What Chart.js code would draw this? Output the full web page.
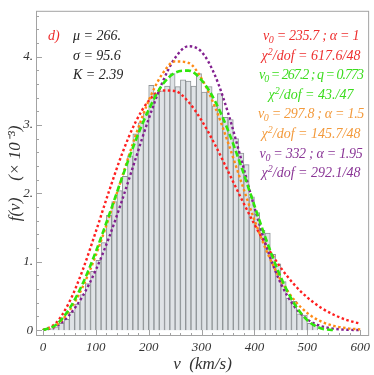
<!DOCTYPE html>
<html>
<head>
<meta charset="utf-8">
<script src="https://cdn.jsdelivr.net/npm/chart.js"></script>
<style>
	body { margin: 0; background: #fff; }
	#wrap { position: relative; width: 374px; height: 375px; }
	.note { position: absolute; font-family: "Liberation Serif", serif; font-style: italic; font-size: 14px; white-space: nowrap; }
	.note div { height: 19.6px; line-height: 19.6px; }
	.note sub { font-size: 10px; line-height: 0; vertical-align: -3px; }
	.note sup { font-size: 10px; line-height: 0; vertical-align: 5px; }
	#stats { left: 73px; top: 26px; color: #222; }
	#tag { left: 48px; top: 26px; color: #ee2a2a; }
	#fits { left: 236px; top: 26px; width: 150px; text-align: center; }
	#fits .v { letter-spacing: -0.3px; }
	#fits .tight { letter-spacing: -1px; }
	.red { color: #ee2e2e; }
	.green { color: #3cdc1e; }
	.orange { color: #f39a3c; }
	.purple { color: #8a3596; }
</style>
</head>
<body>
<div id="wrap">
	<canvas id="graf"></canvas>
	<div class="note" id="tag"><div>d)</div></div>
	<div class="note" id="stats">
		<div>μ = 266.</div>
		<div>σ = 95.6</div>
		<div>K = 2.39</div>
	</div>
	<div class="note" id="fits">
		<div class="red v">v<sub>0</sub> = 235.7 ; α = 1</div>
		<div class="red">χ<sup>2</sup>/dof = 617.6/48</div>
		<div class="green tight">v<sub>0</sub> = 267.2 ; q = 0.773</div>
		<div class="green">χ<sup>2</sup>/dof = 43./47</div>
		<div class="orange v">v<sub>0</sub> = 297.8 ; α = 1.5</div>
		<div class="orange">χ<sup>2</sup>/dof = 145.7/48</div>
		<div class="purple v">v<sub>0</sub> = 332 ; α = 1.95</div>
		<div class="purple">χ<sup>2</sup>/dof = 292.1/48</div>
	</div>
</div>
<script>
	// histogram, bins of 10 km/s (bin centres)
	let binCenters = [5, 15, 25, 35, 45, 55, 65, 75, 85, 95, 105, 115, 125, 135, 145, 155, 165, 175, 185, 195,
		205, 215, 225, 235, 245, 255, 265, 275, 285, 295, 305, 315, 325, 335, 345, 355, 365, 375, 385, 395,
		405, 415, 425, 435, 445, 455, 465, 475, 485, 495, 505, 515];
	let binCounts = [0.005, 0.02, 0.05, 0.10, 0.16, 0.26, 0.38, 0.52, 0.68, 0.86, 1.02, 1.28, 1.68, 1.88, 2.04, 2.25, 2.55, 2.87, 3.03, 3.18,
		3.58, 3.45, 3.50, 3.57, 3.75, 3.56, 3.66, 3.64, 3.57, 3.75, 3.48, 3.56, 3.28, 3.46, 3.11, 3.08, 2.80, 2.59, 2.42, 1.95,
		1.72, 1.46, 1.42, 1.11, 0.97, 0.71, 0.47, 0.42, 0.24, 0.22, 0.10, 0.07];

	// fitted curves, read every 25 km/s
	let vGrid = [0, 25, 50, 75, 100, 125, 150, 175, 200, 225, 250, 275, 300, 325, 350, 375, 400, 425, 450, 475, 500, 525, 550, 575, 600];
	let redFit = [0, 0.107, 0.412, 0.875, 1.439, 2.031, 2.585, 3.039, 3.353, 3.505, 3.495, 3.339, 3.067, 2.717, 2.326, 1.927, 1.547, 1.205, 0.911, 0.669, 0.478, 0.333, 0.225, 0.148, 0.095];
	let greenFit = [0, 0.080, 0.312, 0.677, 1.147, 1.682, 2.237, 2.766, 3.222, 3.578, 3.763, 3.795, 3.656, 3.357, 2.922, 2.393, 1.821, 1.263, 0.771, 0.391, 0.145, 0.029, 0.001, null, null];
	let orangeFit = [0, 0.071, 0.283, 0.629, 1.094, 1.648, 2.249, 2.840, 3.356, 3.736, 3.929, 3.909, 3.678, 3.271, 2.744, 2.169, 1.611, 1.122, 0.730, 0.443, 0.250, 0.131, 0.063, 0.028, 0.011];
	let purpleFit = [0, 0.055, 0.222, 0.497, 0.879, 1.355, 1.907, 2.501, 3.088, 3.605, 3.981, 4.151, 4.070, 3.732, 3.180, 2.498, 1.794, 1.166, 0.680, 0.351, 0.159, 0.062, 0.021, 0.006, 0.002];

	let xTicks = [0, 100, 200, 300, 400, 500, 600];
	let yTicks = [0, 1, 2, 3, 4];

	const pts = (xs, ys) => xs.map((x, i) => ({ x: x, y: ys[i] }));
	const serif = "'Liberation Serif', serif";

	function curve(data, color, dash, width) {
		return {
			type: "line",
			data: data,
			borderColor: color,
			borderWidth: width,
			borderDash: dash,
			borderCapStyle: "butt",
			pointRadius: 0,
			fill: false,
			spanGaps: false,
			cubicInterpolationMode: "monotone",
		};
	}

	// frame box and inward tick marks
	const frameTicks = {
		id: "frameTicks",
		afterDatasetsDraw(chart) {
			const { ctx, chartArea: a, scales } = chart;
			ctx.save();
			ctx.strokeStyle = "#a3a3a3";
			ctx.lineWidth = 1;
			ctx.strokeRect(a.left + 0.5, a.top + 0.5, a.right - a.left - 1, a.bottom - a.top - 1);
			ctx.beginPath();
			for (let v = 0; v <= 600; v += 20) {
				const px = Math.round(scales.x.getPixelForValue(v)) + 0.5;
				const len = v % 100 === 0 ? 6 : 3;
				ctx.moveTo(px, a.bottom);
				ctx.lineTo(px, a.bottom - len);
			}
			for (let k = 0; k <= 23; k++) {
				const py = Math.round(scales.y.getPixelForValue(k * 0.2)) + 0.5;
				const len = k % 5 === 0 ? 6 : 3;
				ctx.moveTo(a.left, py);
				ctx.lineTo(a.left + len, py);
			}
			ctx.stroke();
			ctx.restore();
		},
	};

	var graf = new Chart(document.getElementById("graf"), {
		type: "bar",
		data: {
			datasets: [
				curve(pts(vGrid, greenFit), "#2fe60c", [6, 3], 2.6),
				curve(pts(vGrid, orangeFit), "#ff8a14", [2.5, 2.5], 2.4),
				curve(pts(vGrid, purpleFit), "#82208f", [2.5, 2.5], 2.4),
				curve(pts(vGrid, redFit), "#ff1f1f", [2.5, 2.5], 2.4),
				{
					type: "bar",
					data: pts(binCenters, binCounts),
					backgroundColor: "#dfe3e6",
					borderColor: "#8f9497",
					borderWidth: 1,
					barPercentage: 1,
					categoryPercentage: 1,
				},
			],
		},
		options: {
			responsive: true,
			maintainAspectRatio: false,
			animation: false,
			layout: { padding: { top: 2, right: 2, left: 0, bottom: 0 } },
			plugins: {
				legend: { display: false },
				tooltip: { enabled: false },
			},
			scales: {
				x: {
					type: "linear",
					offset: false,
					min: -13.1,
					max: 616.9,
					grid: { display: false, drawTicks: false },
					border: { display: false },
					afterBuildTicks: (s) => { s.ticks = xTicks.map((v) => ({ value: v })); },
					afterFit: (s) => { s.height = 39; },
					ticks: {
						padding: 4,
						color: "#333",
						maxRotation: 0,
						font: { family: serif, style: "italic", size: 13 },
						callback: (v) => String(v),
					},
					title: {
						display: true,
						text: "v  (km/s)",
						color: "#333",
						padding: 0,
						font: { family: serif, style: "italic", size: 17 },
					},
				},
				y: {
					type: "linear",
					min: -0.0854,
					max: 4.669,
					grid: { display: false, drawTicks: false },
					border: { display: false },
					afterBuildTicks: (s) => { s.ticks = yTicks.map((v) => ({ value: v })); },
					afterFit: (s) => { s.width = 36; },
					ticks: {
						padding: 3,
						color: "#333",
						font: { family: serif, style: "italic", size: 13 },
						callback: (v) => (v === 0 ? "0" : v + "."),
					},
					title: {
						display: true,
						text: "f(v)    (× 10⁻³)",
						color: "#333",
						padding: { top: 5, bottom: 0 },
						font: { family: serif, style: "italic", size: 17 },
					},
				},
			},
		},
		plugins: [frameTicks],
	});
</script>
</body>
</html>
